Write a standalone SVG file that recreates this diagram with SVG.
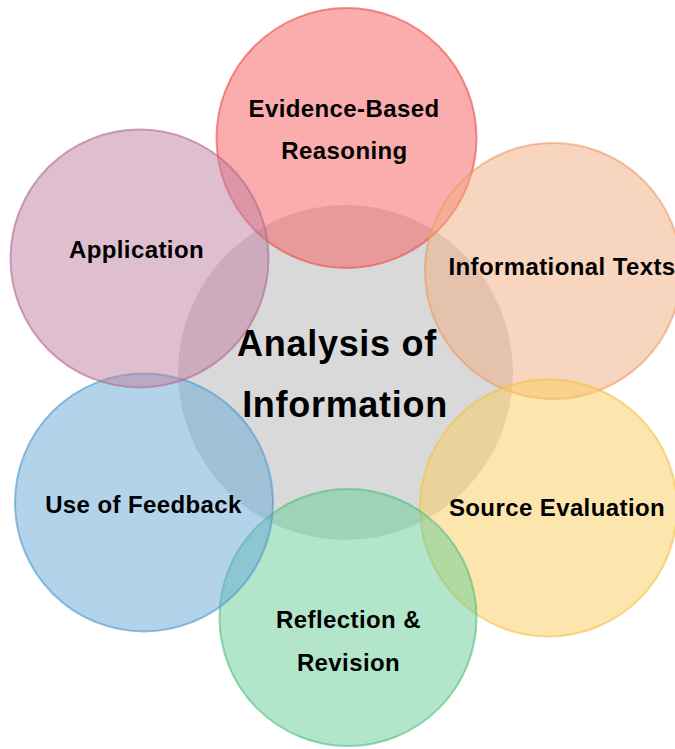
<svg xmlns="http://www.w3.org/2000/svg" width="675" height="749" viewBox="0 0 675 749">
<style>
  .c { stroke-width: 2; fill-opacity: 0.5; stroke-opacity: 0.6; }
  .t { font-family: "Liberation Sans", Arial, sans-serif; font-weight: bold; font-size: 24px; fill: #000; text-anchor: middle; letter-spacing: 0.4px; }
  .big { font-size: 36px; letter-spacing: 0.7px; }
</style>
<rect width="675" height="749" fill="#ffffff"/>
<g id="center">
  <circle cx="345.5" cy="372.5" r="167.5" fill="#b3b3b3" fill-opacity="0.5" stroke="none"/>
</g>
<g id="evidence">
  <circle class="c" cx="346.5" cy="138" r="130" fill="#f75c5c" stroke="#ea4a4a"/>
</g>
<g id="informational">
  <circle class="c" cx="553" cy="271" r="128" fill="#f2ac7f" stroke="#ec9a62"/>
</g>
<g id="source">
  <circle class="c" cx="548.5" cy="508" r="128.5" fill="#fccd5c" stroke="#f5c040"/>
</g>
<g id="reflection">
  <circle class="c" cx="348" cy="617.5" r="128.5" fill="#66cc96" stroke="#4cbe7e"/>
</g>
<g id="feedback">
  <circle class="c" cx="144" cy="502.5" r="129" fill="#65a8d5" stroke="#4c98cc"/>
</g>
<g id="application">
  <circle class="c" cx="139.5" cy="258.5" r="129" fill="#bf7f9f" stroke="#b06890"/>
</g>
<g id="labels">
  <text class="t big" x="337" y="356">Analysis of</text>
  <text class="t big" x="345" y="417">Information</text>
  <text class="t" x="344" y="117">Evidence-Based</text>
  <text class="t" x="344.5" y="159">Reasoning</text>
  <text class="t" x="562" y="275">Informational Texts</text>
  <text class="t" x="557" y="516">Source Evaluation</text>
  <text class="t" x="348.5" y="628">Reflection &amp;</text>
  <text class="t" x="348.5" y="671">Revision</text>
  <text class="t" x="143.5" y="513">Use of Feedback</text>
  <text class="t" x="136.5" y="258">Application</text>
</g>
</svg>
